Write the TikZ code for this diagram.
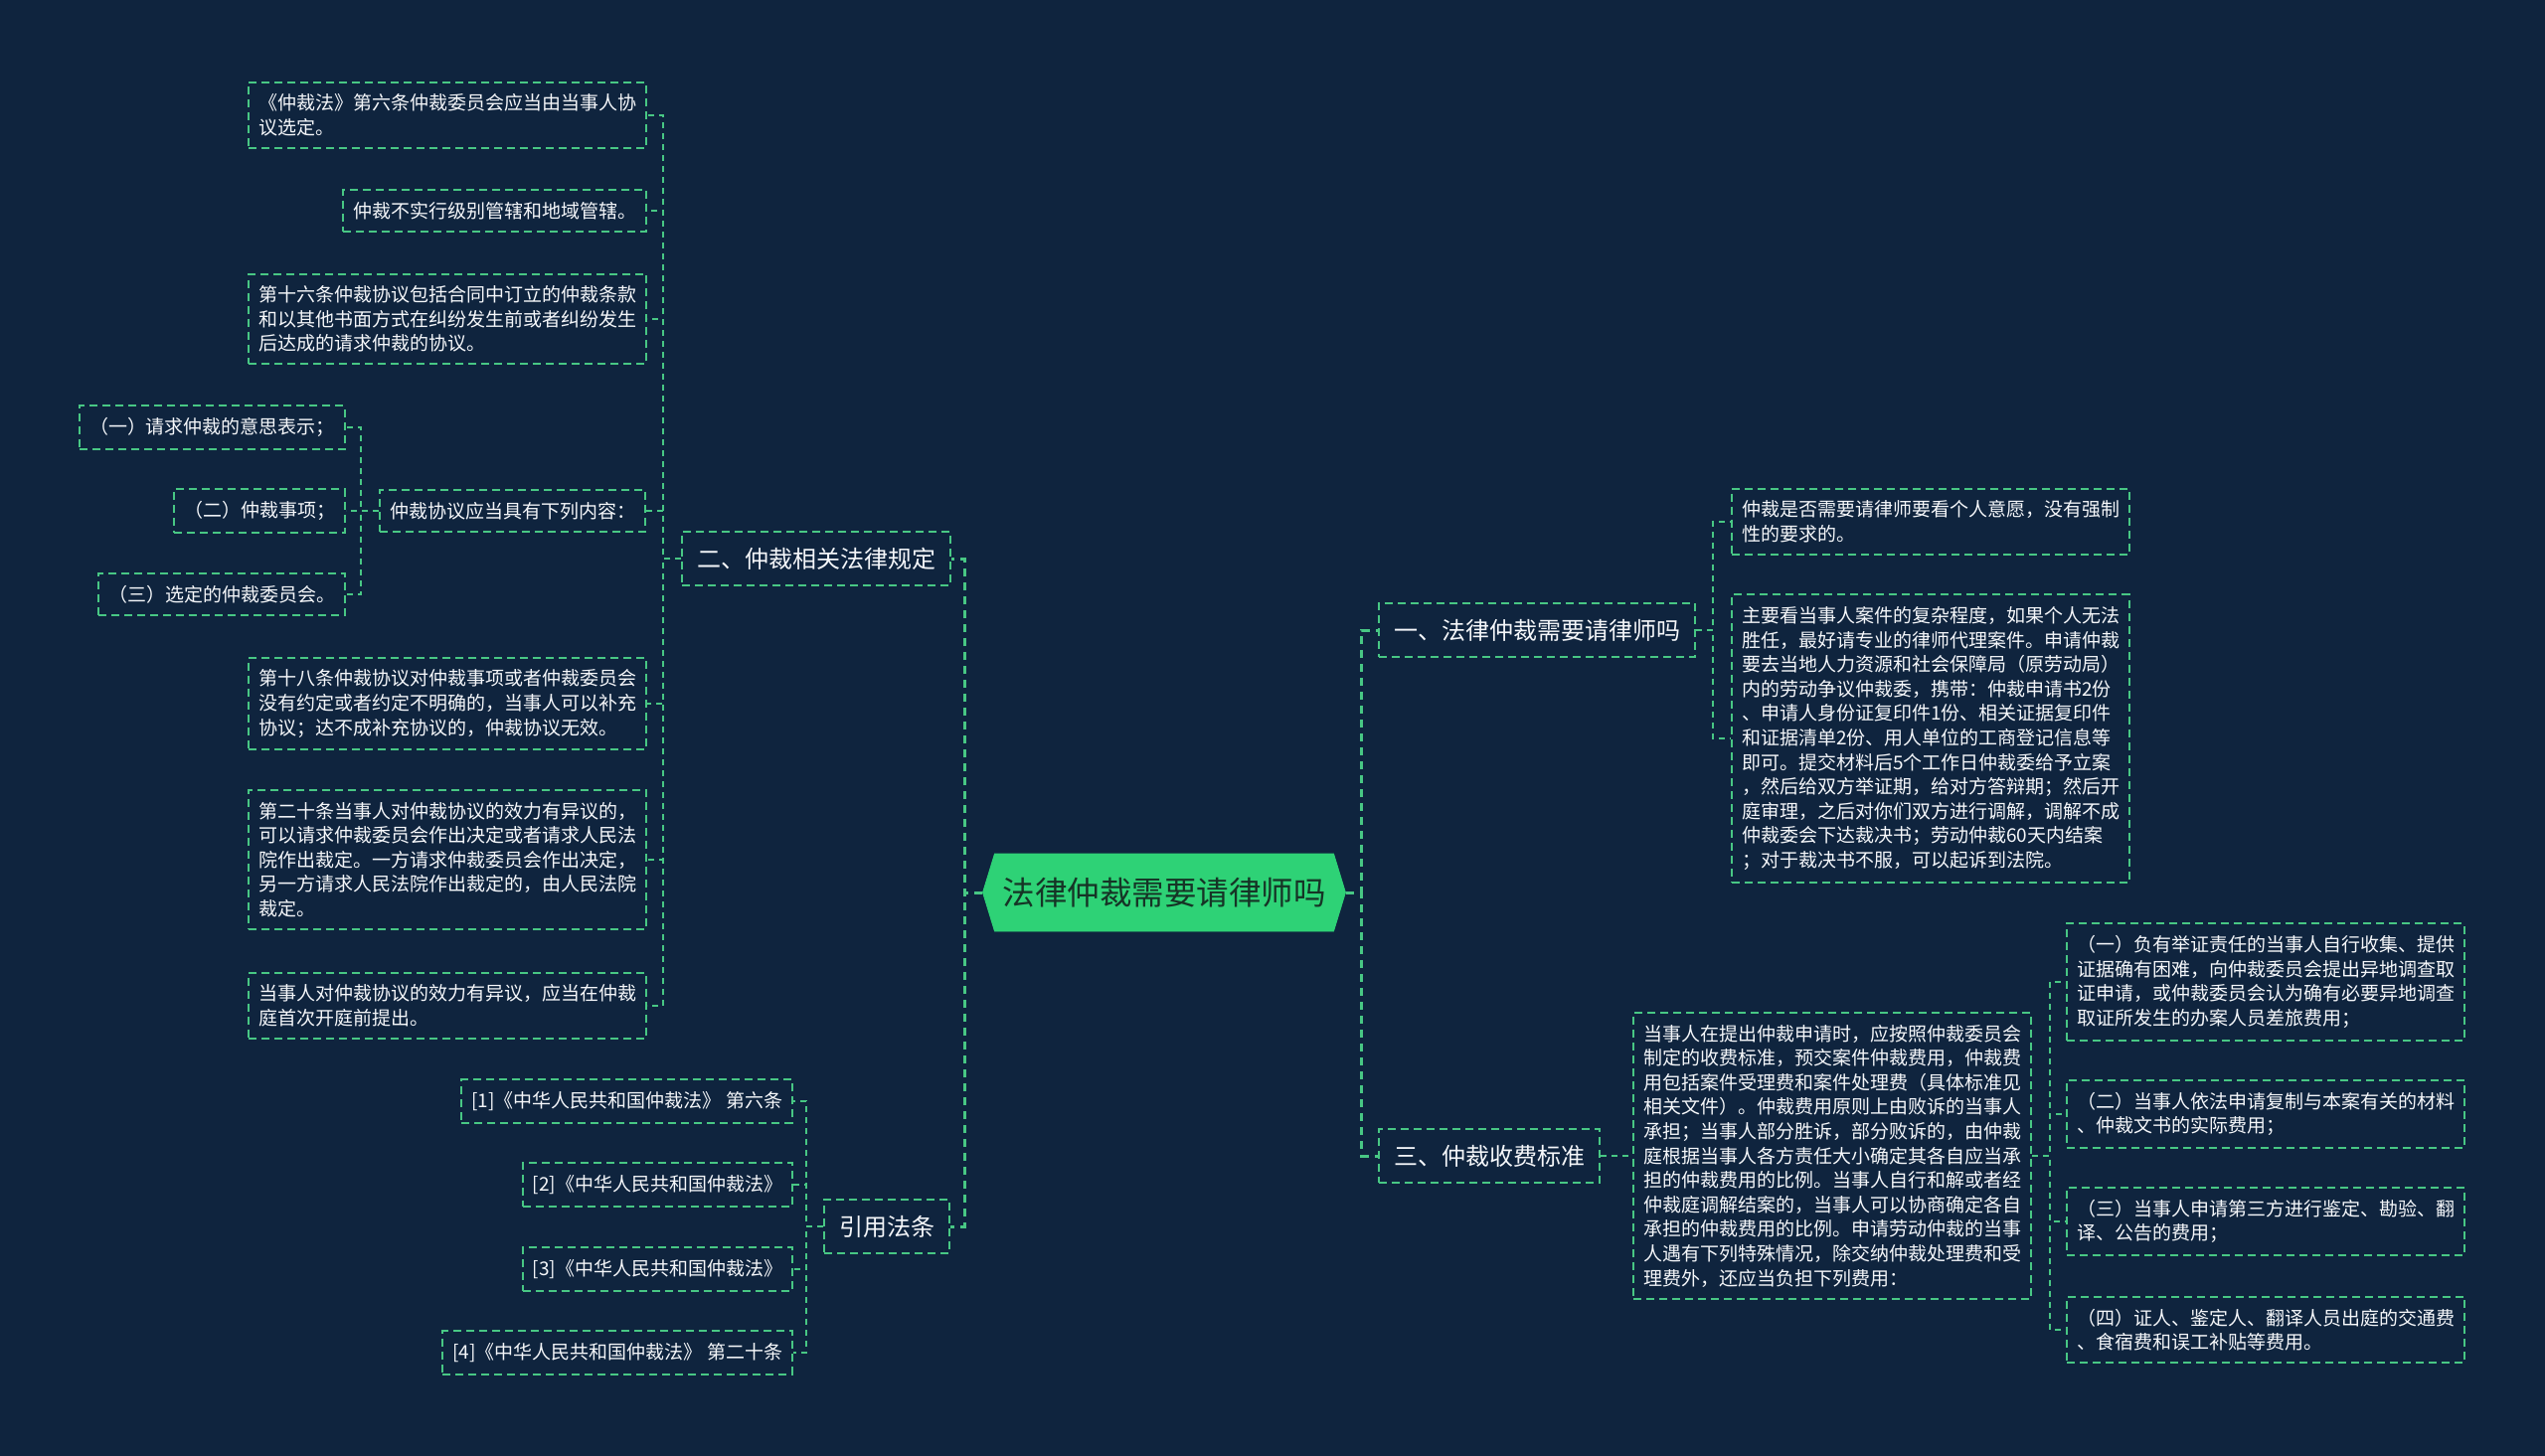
\documentclass[tikz,border=0pt]{standalone}
\usepackage{fontspec}
\setmainfont{Noto Sans CJK SC}
\usepackage{tikz}
\usetikzlibrary{shapes.symbols, calc}
\definecolor{cBg}{RGB}{15,36,62}
\definecolor{cLine}{RGB}{72,199,132}
\definecolor{cRoot}{RGB}{46,210,118}
\definecolor{cRootText}{RGB}{22,52,38}
\definecolor{cText}{RGB}{245,247,250}
\tikzset{
	root/.style ={signal, signal to=west and east, signal pointer angle=146, fill=cRoot, draw=cRoot, text=cRootText, minimum width=180pt, minimum height=39pt, inner xsep=4pt, font=\fontsize{16.25}{18}\selectfont},
	topic/.style={rectangle, draw=cLine, line width=1pt, dash pattern=on 4pt off 2.5pt, text=cText, inner xsep=7.5pt, inner ysep=8pt, font=\fontsize{12}{14}\selectfont},
	leaf/.style ={rectangle, draw=cLine, line width=1pt, dash pattern=on 4pt off 2.5pt, text=cText, align=left, inner xsep=5pt, inner ysep=6pt, font=\fontsize{9.5}{12.3}\selectfont},
	% connectors
	trunk/.style={draw=cLine, line width=1.5pt, dash pattern=on 4pt off 3pt},
	link/.style ={draw=cLine, line width=1pt, dash pattern=on 3pt off 2.5pt},
}
\begin{document}
\begin{tikzpicture}[x=0.5pt, y=-0.5pt,
			lleaf/.style={leaf, anchor=east},
			rleaf/.style={leaf, anchor=west}]
	\fill[cBg] (0,0) rectangle (2560,1465);
	\node[root] (root) at (1171,898) {法律仲裁需要请律师吗};
	\node[topic, anchor=east] (t2) at (957,562) {二、仲裁相关法律规定};
	\node[topic, anchor=east] (t4) at (956,1234) {引用法条};
	\node[topic, anchor=west] (t1) at (1386,634) {一、法律仲裁需要请律师吗};
	\node[topic, anchor=west] (t3) at (1386,1163) {三、仲裁收费标准};
	% left: legal provisions
	\node[lleaf] (a1) at (651,116) {《仲裁法》第六条仲裁委员会应当由当事人协\\议选定。};
	\node[lleaf] (a2) at (651,212) {仲裁不实行级别管辖和地域管辖。};
	\node[lleaf] (a3) at (651,321) {第十六条仲裁协议包括合同中订立的仲裁条款\\和以其他书面方式在纠纷发生前或者纠纷发生\\后达成的请求仲裁的协议。};
	\node[lleaf] (a4) at (650,514) {仲裁协议应当具有下列内容：};
	\node[lleaf] (a5) at (651,708) {第十八条仲裁协议对仲裁事项或者仲裁委员会\\没有约定或者约定不明确的，当事人可以补充\\协议；达不成补充协议的，仲裁协议无效。};
	\node[lleaf] (a6) at (651,865) {第二十条当事人对仲裁协议的效力有异议的，\\可以请求仲裁委员会作出决定或者请求人民法\\院作出裁定。一方请求仲裁委员会作出决定，\\另一方请求人民法院作出裁定的，由人民法院\\裁定。};
	\node[lleaf] (a7) at (651,1012) {当事人对仲裁协议的效力有异议，应当在仲裁\\庭首次开庭前提出。};
	\node[lleaf] (b1) at (348,430) {（一）请求仲裁的意思表示；};
	\node[lleaf] (b2) at (348,514) {（二）仲裁事项；};
	\node[lleaf] (b3) at (348,598) {（三）选定的仲裁委员会。};
	% left: references
	\node[lleaf] (r1) at (798,1108) {[1]《中华人民共和国仲裁法》 第六条};
	\node[lleaf] (r2) at (798,1192) {[2]《中华人民共和国仲裁法》};
	\node[lleaf] (r3) at (798,1277) {[3]《中华人民共和国仲裁法》};
	\node[lleaf] (r4) at (798,1361) {[4]《中华人民共和国仲裁法》 第二十条};
	% right
	\node[rleaf] (c1) at (1741,525) {仲裁是否需要请律师要看个人意愿，没有强制\\性的要求的。};
	\node[rleaf] (c2) at (1741,743) {主要看当事人案件的复杂程度，如果个人无法\\胜任，最好请专业的律师代理案件。申请仲裁\\要去当地人力资源和社会保障局（原劳动局）\\内的劳动争议仲裁委，携带：仲裁申请书2份\\、申请人身份证复印件1份、相关证据复印件\\和证据清单2份、用人单位的工商登记信息等\\即可。提交材料后5个工作日仲裁委给予立案\\，然后给双方举证期，给对方答辩期；然后开\\庭审理，之后对你们双方进行调解，调解不成\\仲裁委会下达裁决书；劳动仲裁60天内结案\\；对于裁决书不服，可以起诉到法院。};
	\node[rleaf] (d) at (1642,1163) {当事人在提出仲裁申请时，应按照仲裁委员会\\制定的收费标准，预交案件仲裁费用，仲裁费\\用包括案件受理费和案件处理费（具体标准见\\相关文件）。仲裁费用原则上由败诉的当事人\\承担；当事人部分胜诉，部分败诉的，由仲裁\\庭根据当事人各方责任大小确定其各自应当承\\担的仲裁费用的比例。当事人自行和解或者经\\仲裁庭调解结案的，当事人可以协商确定各自\\承担的仲裁费用的比例。申请劳动仲裁的当事\\人遇有下列特殊情况，除交纳仲裁处理费和受\\理费外，还应当负担下列费用：};
	\node[rleaf] (e1) at (2078,988) {（一）负有举证责任的当事人自行收集、提供\\证据确有困难，向仲裁委员会提出异地调查取\\证申请，或仲裁委员会认为确有必要异地调查\\取证所发生的办案人员差旅费用；};
	\node[rleaf] (e2) at (2078,1121) {（二）当事人依法申请复制与本案有关的材料\\、仲裁文书的实际费用；};
	\node[rleaf] (e3) at (2078,1229) {（三）当事人申请第三方进行鉴定、勘验、翻\\译、公告的费用；};
	\node[rleaf] (e4) at (2078,1338) {（四）证人、鉴定人、翻译人员出庭的交通费\\、食宿费和误工补贴等费用。};
	% connectors
	\foreach \n in {t2,t4} \draw[trunk] (root.west) -- ++(-18,0) |- (\n.east);
	\foreach \n in {t1,t3} \draw[trunk] (root.east) -- ++(16,0) |- (\n.west);
	\foreach \n in {a1,a2,a3,a4,a5,a6,a7} \draw[link] (t2.west) -- ++(-18,0) |- (\n.east);
	\foreach \n in {b1,b2,b3} \draw[link] (a4.west) -- ++(-18,0) |- (\n.east);
	\foreach \n in {r1,r2,r3,r4} \draw[link] (t4.west) -- ++(-17,0) |- (\n.east);
	\foreach \n in {c1,c2} \draw[link] (t1.east) -- ++(17,0) |- (\n.west);
	\draw[link] (t3.east) -- (d.west);
	\foreach \n in {e1,e2,e3,e4} \draw[link] (d.east) -- ++(18,0) |- (\n.west);
\end{tikzpicture}
\end{document}
